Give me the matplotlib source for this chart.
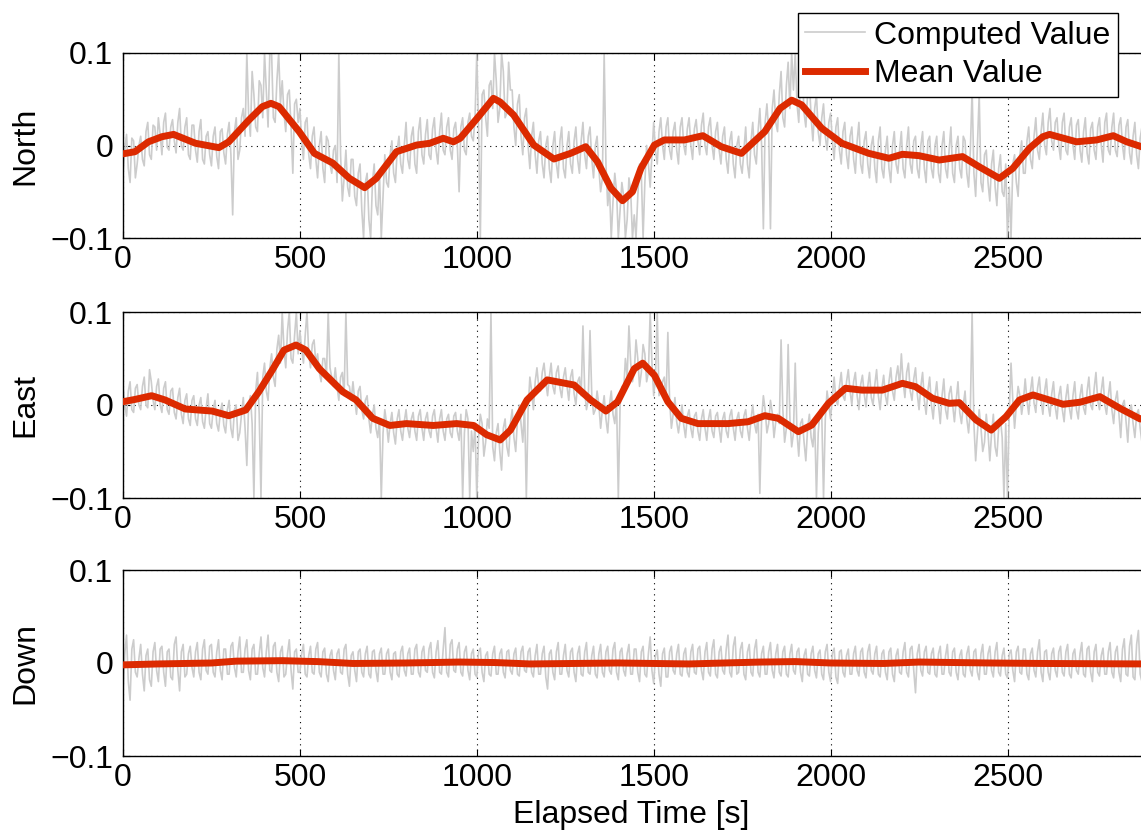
import numpy as np
import matplotlib
matplotlib.use("Agg")
import matplotlib.pyplot as plt
from matplotlib.lines import Line2D

plt.rcParams['font.family'] = ['Liberation Sans', 'DejaVu Sans']

# ---------------- data ----------------
panel_names = ["North", "East", "Down"]
x_ticks = [0, 500, 1000, 1500, 2000, 2500]
y_ticks = [-0.1, 0, 0.1]
y_tick_labels = ["\u22120.1", "0", "0.1"]
raw_step = 5  # seconds between computed samples (a: t=0,10,..; b: t=5,15,..)

# computed values (thousandths) at t = 0, 10, 20, ...
north_raw_a = [
    -30, 12, -40, 5, -20,   10, -22, 25, -15, 20,   30, -10, 35, -5, 28,   -8, 40, -5, 30, -15,
    22, -18, 28, -20, 15,   -22, 20, -25, 18, -20,  25, -75, 30, -5, 40,   100, 10, 55, 15, 65,
    100, 20, 100, 25, 100,  70, 15, 60, -30, 50,    40, -15, 30, -25, 20,  -35, 15, -40, 5, -30,
    0, 100, -60, -5, -55,   -15, -65, -20, -100, -30, -100, -20, -75, -100, -10, -45, 5, -40, 10, -30,
    25, -25, 20, -30, 30,   -20, 28, -15, 30, -20,  35, -10, 30, -15, 25,  -50, 30, -10, 35, 5,
    100, -100, 60, 10, 70,  100, 25, 100, 30, 90,   60, 0, 55, -10, 40,    -25, 25, -30, 15, -35,
    10, -40, 15, -35, 20,   -35, 15, -30, 20, -30,  25, -25, 20, -35, 10,  -50, 100, -65, -100, -30,
    -100, -40, -100, -35, -100, -100, -20, -100, 0, -45, 25, -20, 30, -15, 30, -15, 25, -20, 30, -10,
    30, -15, 28, -10, 35,   -10, 30, -15, 25, -20,  20, -30, 15, -35, 10,  -30, 20, -35, 25, -20,
    40, -90, 45, -90, 60,   15, 80, 20, 90, 100,    100, 25, 80, 20, 70,   5, 55, 0, 45, -5,
    35, -15, 30, -20, 25,   -25, 20, -30, 25, -30,  15, -35, 10, -40, 20,  -35, 10, -40, 15, -30,
    15, -35, 20, -30, 10,   -35, 15, -40, 10, -35,  10, -40, 15, -35, 20,  -40, 10, -35, 5, -45,
    60, -55, 55, -50, -5,   -60, -5, -65, -10, -55, -100, -100, -10, -55, 5, -30, 20, -25, 30, -15,
    35, -10, 40, -5, 30,    -15, 35, -10, 30, -15,  28, -18, 30, -20, 25,  -15, 30, -18, 35, -10,
    35, -12, 30, -15, 28,   -20, 25, -25, 20, -20,
]
# computed values (thousandths) at t = 5, 15, 25, ...
north_raw_b = [
    -5, -25, 8, -35, 0,     -15, 15, -10, 22, -5,   12, 25, -2, 20, 5,     25, 0, 20, -10, 22,
    -5, 15, -15, 10, -10,   10, -12, 15, -8, 12,    -10, 15, -15, 30, 10,  35, 80, 20, 70, 30,
    60, 100, 30, 70, 45,    35, 55, 20, 45, 25,     5, 25, -10, 10, -15,   0, -25, 10, -20, -5,
    -40, -10, -35, -45, -15, -55, -30, -70, -40, -80, -40, -65, -30, -55, -40, -10, -30, -5, -20, 0,
    -15, 10, -20, 15, -10,  12, -10, 18, -5, 15,    -5, 20, -5, 18, 0,     20, -5, 25, 10, 30,
    20, 55, 30, 65, 40,     70, 40, 80, 35, 60,     20, 45, 10, 30, 0,     10, -10, 5, -20, 0,
    -25, 0, -20, 5, -25,    0, -20, 5, -15, 5,      -10, 10, -15, 0, -25,  -35, -20, -45, -60, -50,
    -70, -55, -80, -50, -75, -55, -30, -40, -20, -10, -5, 15, 0, 20, -5,   15, -5, 20, 0, 18,
    0, 18, 5, 22, 0,        20, 0, 15, -5, 10,      -15, 5, -20, 0, -20,   -5, -20, 5, -10, 15,
    0, 25, 15, 40, 25,      55, 30, 65, 40, 60,     45, 70, 35, 55, 30,    40, 15, 30, 10, 25,
    5, 20, -5, 15, -10,     10, -15, 5, -20, 5,     -20, 0, -25, 5, -25,   -5, -25, 0, -20, -5,
    -25, 0, -20, 5, -25,    0, -25, 5, -25, 0,      -30, 0, -25, -5, -30,  0, -25, 10, -30, -5,
    -30, 0, -40, -10, -40,  -20, -45, -25, -50, -20, -45, -20, -40, -10, -30, 5, -15, 10, -5, 15,
    0, 25, 5, 25, 0,        25, -5, 20, 0, 22,      -5, 15, -8, 18, -5,    20, 0, 25, -5, 20,
    -5, 22, 0, 20, -8,      10, -10, 8, -15, 5,
]
east_raw_a = [
    20, -12, 25, -8, 22,    -5, 30, -3, 25, -5,     28, -8, 25, -10, 18,   -15, 18, -20, 12, -22,
    10, -22, 8, -25, 12,    -25, 5, -28, 2, -30,    5, -35, 0, -30, 8,     -65, 10, -100, 35, -100,
    45, 5, 55, 20, 75,      100, 40, 100, 45, 100,  80, 45, 100, 40, 70,   55, 25, 50, 100, 30,
    40, 5, 35, 100, 20,     25, -10, 20, -15, 10,   -30, 0, -35, -100, -5,  -40, -8, -42, -5, -38,
    -5, -35, -8, -38, -5,   -38, -8, -35, -5, -40,  -5, -38, -10, -35, -8,  -38, -100, -5, -100, -50,
    -100, -10, -55, -15, 100, -60, -20, -70, -15, -55, -5, -50, 0, -40, -100, 30, -5, 40, 15, 45,
    10, 45, 12, 42, 8,      40, 5, 38, 0, 30,       85, -5, 80, -10, 15,   -25, 10, -30, 15, -20,
    -100, 20, 50, 85, 25,   70, 20, 65, 25, 100,    10, 100, 15, 30, 78,   -25, 8, -30, 0, -35,
    -5, -35, -8, -38, -5,   -38, -5, -35, -8, -40,  -8, -35, -5, -38, -8,  -35, -5, -38, 0, -30,
    -95, 10, -30, 5, -35,   -10, 70, -40, 65, -45,  45, -55, -15, -60, -10, -45, -100, -5, -100, 15,
    -15, 30, 0, 35, 5,      38, 0, 35, -5, 32,      -2, 35, 0, 38, -5,     32, 0, 40, 5, 42,
    55, 8, 45, 5, 40,       -5, 35, -10, 30, -15,   25, -20, 28, -15, 20,   -18, 25, -20, 15, -30,
    100, -60, -5, -50, -10, -60, -10, -55, -15, -100, -100, 45, -25, 20, -10, 28, -10, 30, -8, 30,
    -10, 28, -12, 25, -15,  20, -18, 22, -15, 25,   -15, 22, -10, 30, -5,  35, -5, 30, -10, 25,
    -20, 15, -35, 5, -40,   0, -35, -5, -40, 0,
]
east_raw_b = [
    0, 15, -5, 18, 0,       20, 0, 38, 5, 20,       0, 18, -5, 15, -8,     8, -10, 5, -15, 5,
    -15, 0, -18, -3, -20,   -5, -20, -8, -22, -5,   -25, -5, -38, -10, -25, 0, -20, 15, -10, 30,
    15, 40, 30, 60, 45,     60, 80, 50, 75, 55,     60, 75, 55, 65, 45,    35, 50, 30, 40, 20,
    20, 30, 10, 22, 5,      5, 15, -5, 5, -15,      -10, -25, -15, -30, -20, -20, -30, -15, -28, -18,
    -25, -15, -28, -12, -25, -15, -28, -12, -25, -15, -28, -15, -30, -12, -28, -10, -30, -15, -28, -20,
    -35, -20, -40, -25, -45, -30, -50, -25, -45, -20, -35, -15, -20, 0, -5,  15, 25, 20, 35, 25,
    30, 20, 35, 18, 30,     20, 30, 12, 25, 10,     15, 5, 10, -5, 0,      -5, -15, 0, -10, 5,
    0, 15, 30, 45, 35,      50, 35, 55, 35, 45,     30, 10, 25, 5, 5,      -10, -18, -15, -22, -12,
    -25, -12, -28, -15, -25, -15, -28, -12, -25, -15, -28, -12, -25, -15, -28, -12, -25, -15, -20, -10,
    -15, -5, -20, -8, -18,  -20, -5, -25, -15, -30, -30, -20, -40, -25, -35, -15, -30, -10, -15, 0,
    10, 5, 20, 10, 25,      15, 25, 10, 22, 12,     20, 8, 22, 10, 18,     10, 25, 15, 30, 20,
    25, 35, 15, 28, 12,     20, 5, 15, 0, 10,       0, 10, -5, 12, 0,      5, -8, 0, -15, -5,
    -20, -30, -25, -40, -30, -30, -45, -25, -35, -20, -5, 5, 0, 10, 5,     5, 15, 2, 18, 5,
    15, 0, 12, -2, 10,      -5, 8, -3, 10, -5,      10, -3, 15, 0, 18,     5, 15, 0, 10, -5,
    5, -10, 0, -18, -5,     -20, -10, -25, -12, -20,
]
down_raw_a = [
    -35, 30, -40, 25, -15,  20, -30, 15, -25, 22,   -20, 18, -25, 15, -18,  28, -30, 20, -12, 18,
    -15, 22, -18, 25, -12,  20, -15, 25, -18, 15,   -12, 22, -15, 28, -10,  25, -18, 20, -12, 28,
    -15, 30, -10, 22, -20,  18, -12, 25, -28, 15,   -10, 20, -15, 18, -12,  22, -15, 16, -20, 14,
    -18, 15, -12, 20, -25,  12, -20, 15, -15, 18,   -16, 14, -20, 16, -12,  15, -18, 12, -15, 18,
    -14, 16, -12, 20, -15,  18, -10, 22, -16, 24,   -12, 38, -15, 25, -10,  22, -14, 18, -18, 15,
    -15, 16, -20, 12, -14,  18, -12, 15, -16, 14,   -12, 16, -14, 18, -10,  16, -15, 20, -12, 18,
    -28, 14, -18, 22, -12,  20, -15, 16, -20, 18,   -14, 22, -12, 18, -16,  20, -15, 18, -12, 22,
    -18, 16, -14, 20, -12,  15, -20, 18, -15, 28,   -22, 14, -25, 16, -15,  18, -12, 20, -14, 16,
    -15, 20, -12, 18, -18,  22, -14, 25, -16, 18,   -12, 30, -15, 28, -10,  22, -18, 20, -14, 25,
    -15, 18, -12, 22, -16,  20, -14, 18, -15, 20,   -12, 16, -20, 15, -14,  18, -16, 14, -18, 20,
    -20, 16, -22, 14, -15,  15, -12, 18, -14, 16,   -16, 20, -12, 18, -15,  14, -18, 16, -20, 15,
    -12, 22, -15, 18, -32,  20, -14, 18, -12, 16,   -15, 18, -12, 20, -14,  16, -18, 14, -15, 18,
    -14, 15, -18, 20, -12,  18, -15, 22, -14, 16,   -16, 14, -20, 18, -12,  15, -18, 16, -15, 25,
    -20, 14, -18, 16, -15,  18, -14, 20, -16, 15,   -12, 22, -15, 18, -20,  20, -14, 16, -12, 22,
    -16, 18, -20, 26, -14,  30, -18, 35, -20, 22,
]
down_raw_b = [
    10, -20, 15, -10, 5,    -12, 8, -18, 12, -8,    15, -10, 12, -15, 20,   -8, 12, -15, 10, -5,
    12, -10, 15, -8, 18,    -10, 12, -8, 15, -12,   18, -5, 12, -10, 15,    -8, 15, -12, 10, -5,
    12, -8, 18, -10, 12,    -15, 10, -8, 12, -10,   10, -12, 8, -10, 15,    -10, 12, -12, 8, -8,
    10, -10, 15, -12, 8,    -8, 12, -10, 10, -12,   12, -8, 10, -12, 10,    -10, 10, -12, 12, -8,
    10, -12, 15, -10, 12,   -8, 15, -10, 12, -10,   15, -10, 20, -8, 15,    -10, 12, -8, 10, -12,
    12, -10, 8, -12, 10,    -12, 10, -10, 12, -8,   10, -12, 12, -8, 12,    -10, 8, -12, 10, -15,
    10, -10, 12, -12, 8,    -8, 12, -10, 10, -12,   12, -10, 8, -12, 10,    -10, 12, -8, 15, -10,
    12, -8, 10, -12, 15,    -10, 12, -12, 10, -8,   8, -12, 10, -15, 12,    -8, 10, -12, 10, -10,
    12, -10, 15, -8, 12,    -10, 15, -12, 12, -8,   15, -10, 18, -12, 15,    -12, 12, -10, 15, -10,
    10, -12, 12, -8, 10,    -10, 12, -12, 10, -8,   12, -10, 8, -12, 10,    -8, 10, -12, 12, -10,
    10, -15, 12, -10, 8,    -12, 10, -8, 12, -10,   12, -8, 10, -12, 10,    -10, 12, -12, 8, -10,
    12, -10, 15, -8, 10,    -8, 12, -10, 10, -12,   10, -12, 8, -10, 12,    -10, 8, -12, 10, -8,
    12, -10, 10, -12, 10,   -8, 12, -10, 8, -12,    10, -8, 12, -10, 15,    -12, 10, -8, 12, -10,
    12, -10, 10, -8, 12,    -10, 12, -12, 10, -8,   10, -12, 15, -10, 12,    -10, 8, -12, 12, -10,
    12, -10, 15, -12, 18,   -15, 20, -12, 18, -10,
]

# mean values: (time [s], value)
north_mean_t = [0, 34, 72, 110, 143, 205, 271, 299, 356, 394, 418, 441, 498, 541, 593, 640, 683, 716,
                773, 830, 867, 905, 934, 953, 1000, 1047, 1066, 1104, 1161, 1218, 1265, 1308, 1341,
                1379, 1412, 1440, 1464, 1502, 1530, 1587, 1639, 1691, 1748, 1814, 1857, 1890, 1918,
                1975, 2032, 2108, 2165, 2203, 2250, 2307, 2373, 2420, 2477, 2515, 2562, 2600, 2619,
                2695, 2752, 2799, 2837, 2892]
north_mean_v = [-0.009, -0.0067, 0.004, 0.0095, 0.012, 0.0024, -0.0023, 0.004, 0.0276, 0.042, 0.0456,
                0.042, 0.015, -0.0085, -0.019, -0.0355, -0.0456, -0.0355, -0.0067, 0.0005, 0.0024,
                0.0078, 0.004, 0.0078, 0.029, 0.051, 0.047, 0.033, 0.0005, -0.0146, -0.0085, -0.0013,
                -0.0175, -0.046, -0.0597, -0.05, -0.0247, 0.0005, 0.006, 0.006, 0.0106, -0.0013,
                -0.0085, 0.015, 0.040, 0.049, 0.044, 0.0186, 0.0024, -0.0085, -0.0138, -0.0095,
                -0.011, -0.0157, -0.012, -0.023, -0.0355, -0.0247, -0.003, 0.0095, 0.012, 0.004,
                0.006, 0.0106, 0.004, -0.003]

east_mean_t = [0, 34, 81, 119, 176, 252, 299, 347, 384, 422, 455, 489, 517, 555, 621, 659, 706, 754,
               801, 877, 943, 991, 1028, 1066, 1095, 1142, 1199, 1275, 1322, 1365, 1398, 1445, 1469,
               1502, 1540, 1578, 1625, 1710, 1767, 1814, 1852, 1909, 1947, 1994, 2042, 2089, 2146,
               2203, 2240, 2288, 2335, 2364, 2411, 2454, 2496, 2534, 2572, 2657, 2705, 2761, 2818,
               2875, 2892]
east_mean_v = [0.0035, 0.006, 0.010, 0.0054, -0.0043, -0.0065, -0.0115, -0.0054, 0.0143, 0.0376,
               0.059, 0.0645, 0.059, 0.039, 0.0143, 0.0054, -0.0143, -0.022, -0.020, -0.022, -0.020,
               -0.022, -0.032, -0.0376, -0.027, 0.0054, 0.027, 0.0215, 0.0054, -0.0065, 0.0035, 0.039,
               0.045, 0.032, 0.0035, -0.0143, -0.020, -0.020, -0.018, -0.0115, -0.0143, -0.0287,
               -0.0215, 0.0018, 0.018, 0.016, 0.016, 0.0233, 0.0197, 0.0072, 0.0018, 0.0025, -0.016,
               -0.027, -0.0125, 0.0054, 0.0108, 0.0008, 0.003, 0.009, -0.0036, -0.015, -0.015]

down_mean_t = [0, 100, 250, 320, 450, 550, 650, 800, 950, 1050, 1150, 1400, 1500, 1600, 1800, 1900,
               2000, 2150, 2250, 2450, 2600, 2892]
down_mean_v = [-0.002, -0.001, 0.0, 0.002, 0.0025, 0.0015, -0.0005, 0.0, 0.001, 0.0005, -0.001, 0.0,
               -0.0005, -0.001, 0.001, 0.0015, 0.0, -0.0005, 0.001, 0.0, -0.0005, -0.001]

raw_series = [(north_raw_a, north_raw_b), (east_raw_a, east_raw_b), (down_raw_a, down_raw_b)]
mean_series = [(north_mean_t, north_mean_v), (east_mean_t, east_mean_v), (down_mean_t, down_mean_v)]

# ---------------- figure ----------------
W, H = 1141, 836
fig = plt.figure(figsize=(W / 100, H / 100), dpi=100)

px_per_unit = 0.3538
x_max = 3000
ax_w_px = x_max * px_per_unit
ax_left = 123 / W
ax_width = ax_w_px / W
panel_px = [(53, 238), (312, 498), (570, 756)]

gray = '#cccccc'
red = '#dc2a00'
fs = 23

for i, (top, bot) in enumerate(panel_px):
    ax = fig.add_axes([ax_left, (H - bot) / H, ax_width, (bot - top) / H])
    a, b = raw_series[i]
    raw = np.empty(len(a) + len(b))
    raw[0::2] = np.array(a) / 1000.0
    raw[1::2] = np.array(b) / 1000.0
    t_raw = np.arange(len(raw)) * raw_step
    ax.plot(t_raw, raw, color=gray, lw=1.2, zorder=2)
    mt, mv = mean_series[i]
    ax.plot(mt, mv, color=red, lw=5, solid_capstyle='round', solid_joinstyle='round', zorder=3)
    ax.set_xlim(0, x_max)
    ax.set_ylim(-0.1, 0.1)
    ax.set_xticks(x_ticks)
    ax.set_xticklabels([str(v) for v in x_ticks])
    ax.set_yticks(y_ticks)
    ax.set_yticklabels(y_tick_labels)
    ax.tick_params(direction='in', top=True, right=True, length=5, width=0.8,
                   labelsize=fs, pad=7)
    ax.tick_params(axis='x', pad=5)
    ax.grid(True, linestyle=(0, (1, 4)), color='black', linewidth=0.8)
    for s in ax.spines.values():
        s.set_linewidth(1.0)
    ax.set_ylabel(panel_names[i], fontsize=fs)
    ax.yaxis.set_label_coords(-83 / ax_w_px, 0.5)

fig.text(631 / W, 1 - 815 / H, "Elapsed Time [s]", ha='center', va='center', fontsize=fs)

handles = [Line2D([], [], color=gray, lw=1.2), Line2D([], [], color=red, lw=5)]
leg = fig.legend(handles, ["Computed Value", "Mean Value"], loc='upper right',
                 bbox_to_anchor=(1118 / W, 1 - 13 / H), fontsize=fs, frameon=True,
                 fancybox=False, framealpha=1, edgecolor='black', borderpad=0.24,
                 labelspacing=0.26, handlelength=1.85, handletextpad=0.3, borderaxespad=0)
leg.get_frame().set_linewidth(1.0)

fig.savefig("out.png", dpi=100)
